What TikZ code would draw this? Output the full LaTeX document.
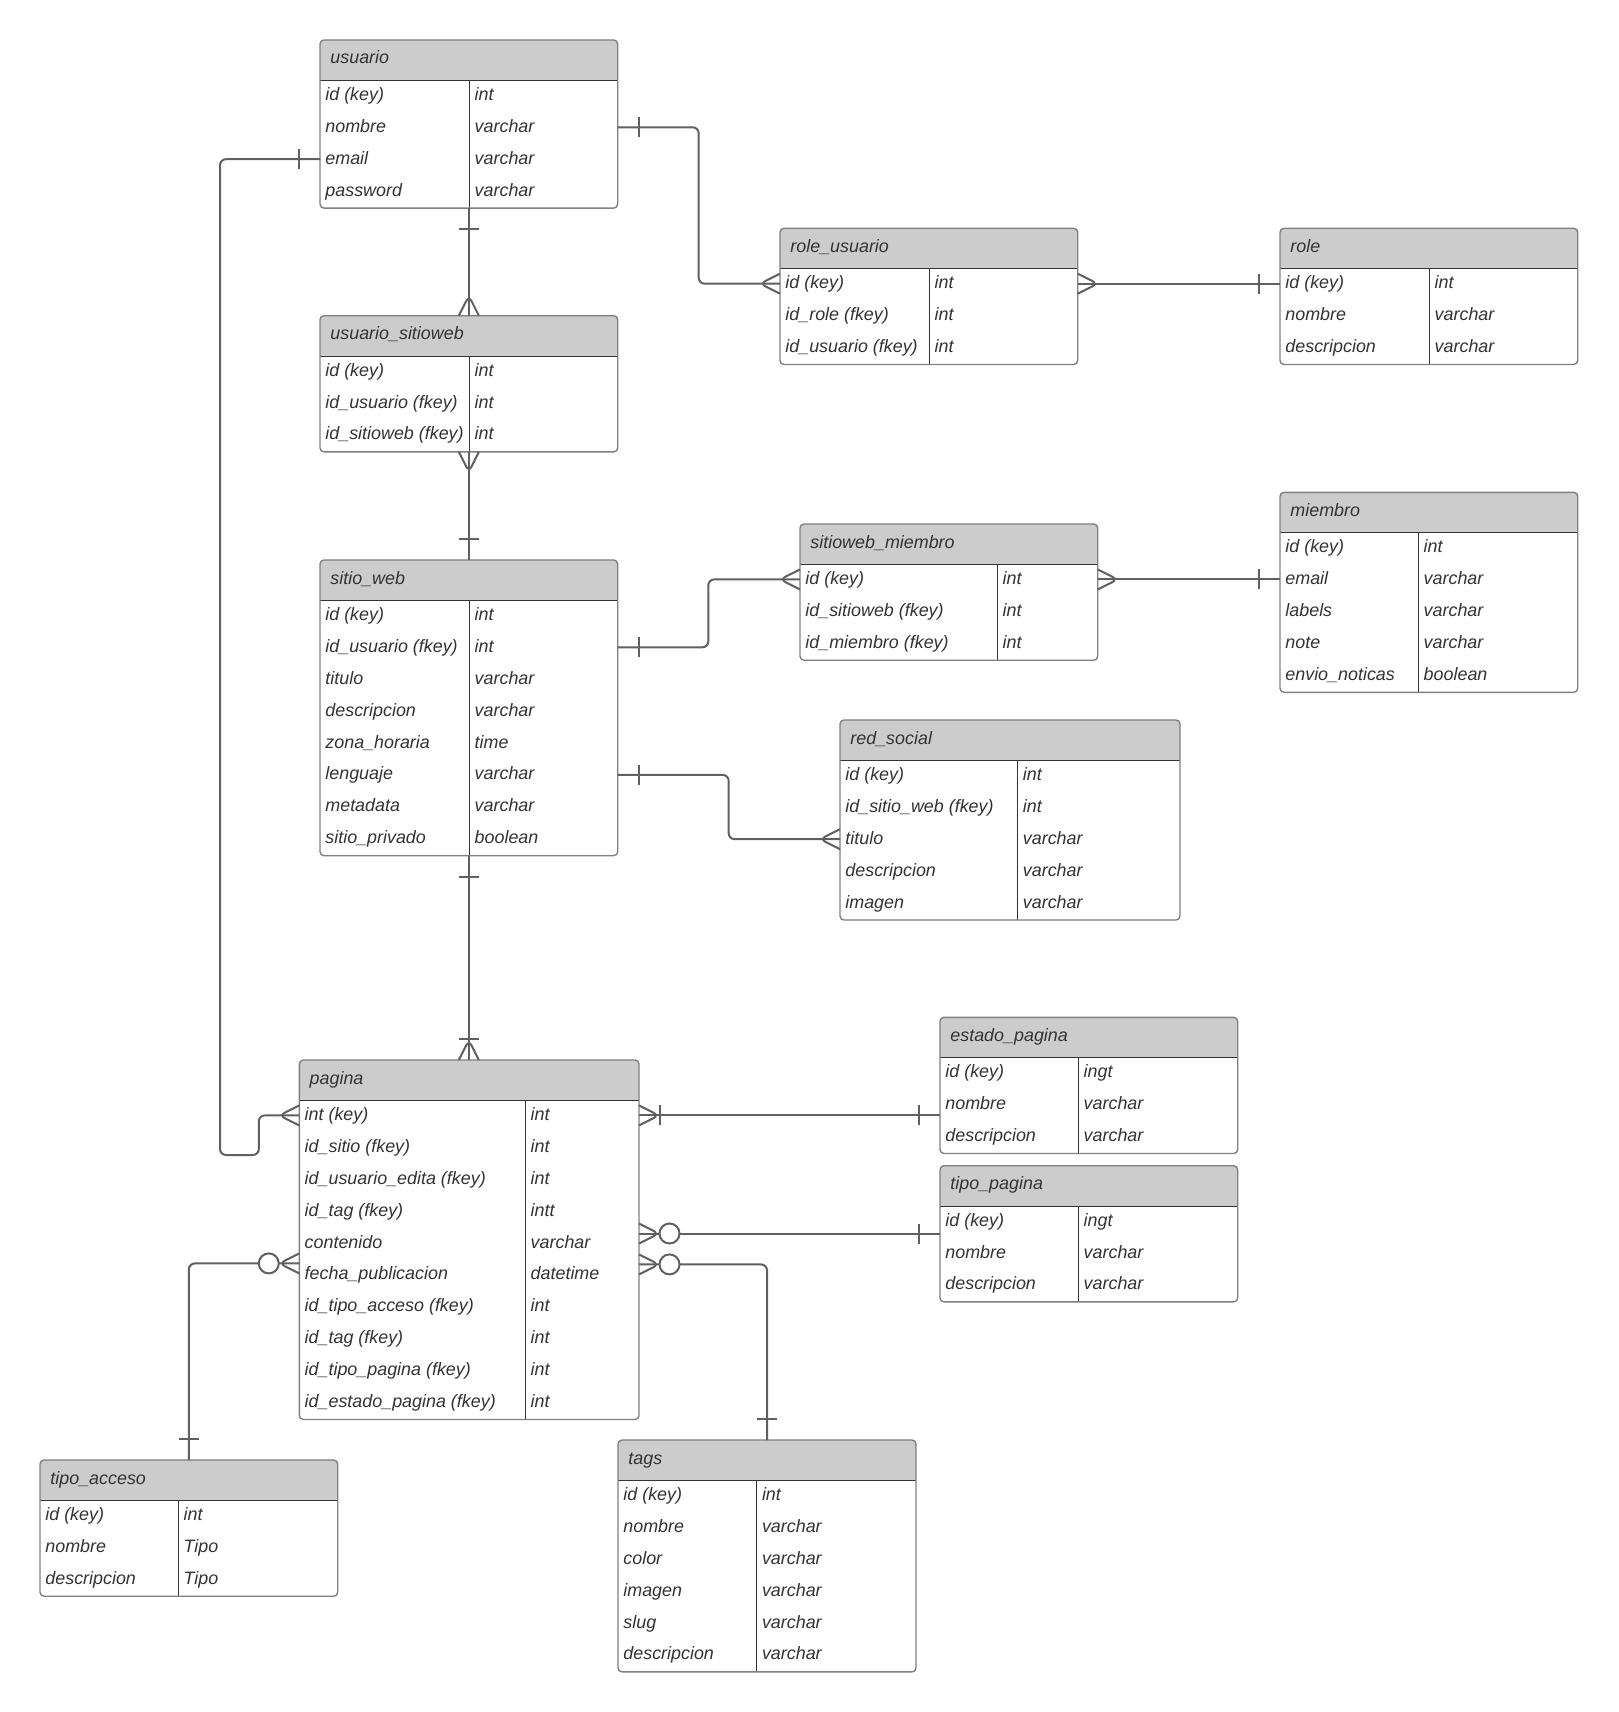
\documentclass[tikz,border=0pt]{standalone}
\usepackage{fontspec}
\setmainfont{Liberation Sans}
\usetikzlibrary{calc}

\definecolor{cabecera}{HTML}{CCCCCC}
\definecolor{texto}{HTML}{333333}
\definecolor{borde}{HTML}{808080}
\definecolor{lineaint}{HTML}{333333}
\definecolor{conector}{HTML}{606060}

% tabla: nombre, x, y, ancho, columna, titulo, filas, campos
\newcommand{\tabla}[8]{%
  \pgfmathsetmacro{\xcab}{#3+40.5}
  \pgfmathsetmacro{\xfondo}{#3+40.5+31.9*#7}
  \pgfmathsetmacro{\xder}{#2+#4}
  \pgfmathsetmacro{\xsep}{#2+#5}
  \fill[white, rounded corners=2pt] (#2,#3) rectangle (\xder,\xfondo);
  \begin{scope}
    \clip[rounded corners=2pt] (#2,#3) rectangle (\xder,\xfondo);
    \fill[cabecera] (#2,#3) rectangle (\xder,\xcab);
  \end{scope}
  \draw[interior] (#2,\xcab) -- (\xder,\xcab);
  \draw[interior] (\xsep,\xcab) -- (\xsep,\xfondo);
  \draw[marco] (#2,#3) rectangle (\xder,\xfondo);
  \node[celda] (#1-t) at (#2+10,#3+24) {#6};
  \coordinate (#1-top) at (#2+#4/2,#3);
  \coordinate (#1-bot) at (#2+#4/2,\xfondo);
  \foreach \campo/\tipo [count=\i] in {#8} {
    \node[celda] (#1-c\i) at (#2+5,\xcab+31.9*\i-12) {\campo};
    \node[celda] (#1-y\i) at (\xsep+5,\xcab+31.9*\i-12) {\tipo};
    \coordinate (#1-l\i) at (#2,\xcab+31.9*\i-17);
    \coordinate (#1-r\i) at (\xder,\xcab+31.9*\i-17);
  }%
}
% extremos de las relaciones
\newcommand{\uno}[2]{\draw[rel] ($(#1)+(#2:21)+(#2+90:10)$) -- ($(#1)+(#2:21)+(#2-90:10)$);}
\newcommand{\muchos}[2]{\draw[rel] ($(#1)+(#2+90:10)$) -- ($(#1)+(#2:20)$) -- ($(#1)+(#2-90:10)$);}
\newcommand{\cero}[2]{\draw[rel, fill=white] ($(#1)+(#2:30.5)$) circle (10);}

\begin{document}
\begin{tikzpicture}[x=0.5pt, y=-0.5pt,
  celda/.style={anchor=base west, inner sep=0pt, text=texto, font=\fontsize{8.95}{10}\selectfont\itshape},
  marco/.style={draw=borde, line width=0.7pt, rounded corners=2pt},
  interior/.style={draw=lineaint, line width=0.5pt},
  rel/.style={draw=conector, line width=1pt, rounded corners=3pt}]
\useasboundingbox (0,0) rectangle (1618,1712);

% tablas
\tabla{usuario}{320}{40}{297.7}{149.3}{usuario}{4}{id (key)/int, nombre/varchar, email/varchar, password/varchar}
\tabla{role_usuario}{780}{228.3}{297.7}{149.3}{role\_usuario}{3}{id (key)/int, id\_role (fkey)/int, id\_usuario (fkey)/int}
\tabla{role}{1280}{228.3}{297.7}{149.3}{role}{3}{id (key)/int, nombre/varchar, descripcion/varchar}
\tabla{usuario_sitioweb}{320}{315.7}{297.7}{149.3}{usuario\_sitioweb}{3}{id (key)/int, id\_usuario (fkey)/int, id\_sitioweb (fkey)/int}
\tabla{sitio_web}{320}{560}{297.7}{149.3}{sitio\_web}{8}{id (key)/int, id\_usuario (fkey)/int, titulo/varchar, descripcion/varchar, zona\_horaria/time, lenguaje/varchar, metadata/varchar, sitio\_privado/boolean}
\tabla{sitioweb_miembro}{800}{524}{297.7}{197.3}{sitioweb\_miembro}{3}{id (key)/int, id\_sitioweb (fkey)/int, id\_miembro (fkey)/int}
\tabla{miembro}{1280}{492.3}{297.7}{138.3}{miembro}{5}{id (key)/int, email/varchar, labels/varchar, note/varchar, envio\_noticas/boolean}
\tabla{red_social}{840}{720}{340}{177.5}{red\_social}{5}{id (key)/int, id\_sitio\_web (fkey)/int, titulo/varchar, descripcion/varchar, imagen/varchar}
\tabla{estado_pagina}{940}{1017.3}{297.7}{138.3}{estado\_pagina}{3}{id (key)/ingt, nombre/varchar, descripcion/varchar}
\tabla{tipo_pagina}{940}{1165.7}{297.7}{138.3}{tipo\_pagina}{3}{id (key)/ingt, nombre/varchar, descripcion/varchar}
\tabla{pagina}{299.3}{1060}{339.7}{226}{pagina}{10}{int (key)/int, id\_sitio (fkey)/int, id\_usuario\_edita (fkey)/int, id\_tag (fkey)/intt, contenido/varchar, fecha\_publicacion/datetime, id\_tipo\_acceso (fkey)/int, id\_tag (fkey)/int, id\_tipo\_pagina (fkey)/int, id\_estado\_pagina (fkey)/int}
\tabla{tipo_acceso}{40}{1460}{297.7}{138.3}{tipo\_acceso}{3}{id (key)/int, nombre/Tipo, descripcion/Tipo}
\tabla{tags}{618}{1440}{298}{138.6}{tags}{6}{id (key)/int, nombre/varchar, color/varchar, imagen/varchar, slug/varchar, descripcion/varchar}

% usuario - role_usuario - role
\draw[rel] (usuario-r2) -- ++(81,0) |- (role_usuario-l1);
\uno{usuario-r2}{0}
\muchos{role_usuario-l1}{180}
\draw[rel] (role_usuario-r1) -- (role-l1);
\muchos{role_usuario-r1}{0}
\uno{role-l1}{180}

% usuario - usuario_sitioweb - sitio_web
\draw[rel] (usuario-bot) -- (usuario_sitioweb-top);
\uno{usuario-bot}{90}
\muchos{usuario_sitioweb-top}{270}
\draw[rel] (usuario_sitioweb-bot) -- (sitio_web-top);
\muchos{usuario_sitioweb-bot}{90}
\uno{sitio_web-top}{270}

% sitio_web - sitioweb_miembro - miembro
\draw[rel] (sitio_web-r2) -- ++(90.6,0) |- (sitioweb_miembro-l1);
\uno{sitio_web-r2}{0}
\muchos{sitioweb_miembro-l1}{180}
\coordinate (mb-sm) at (miembro-l2 |- sitioweb_miembro-r1);
\draw[rel] (sitioweb_miembro-r1) -- (mb-sm);
\muchos{sitioweb_miembro-r1}{0}
\uno{mb-sm}{180}

% sitio_web - red_social
\draw[rel] (sitio_web-r6) -- ++(111,0) |- (red_social-l3);
\uno{sitio_web-r6}{0}
\muchos{red_social-l3}{180}

% sitio_web - pagina
\coordinate (pg-sw) at (sitio_web-bot |- pagina-top);
\draw[rel] (sitio_web-bot) -- (pg-sw);
\uno{sitio_web-bot}{90}
\muchos{pg-sw}{270}
\uno{pg-sw}{270}

% usuario - pagina
\coordinate (codo) at (220,1155);
\draw[rel] (usuario-l3) -| (codo) -| ($(pagina-l1)+(-40.5,0)$) -- (pagina-l1);
\uno{usuario-l3}{180}
\muchos{pagina-l1}{180}

% pagina - estado_pagina
\coordinate (ep-pg) at (estado_pagina-l1 |- pagina-r1);
\draw[rel] (pagina-r1) -- (ep-pg);
\muchos{pagina-r1}{0}
\uno{pagina-r1}{0}
\uno{ep-pg}{180}

% pagina - tipo_pagina
\coordinate (pg-tp) at ($(pagina-r5)+(0,-9.5)$);
\coordinate (tp-pg) at (tipo_pagina-l1 |- pg-tp);
\draw[rel] (pg-tp) -- (tp-pg);
\muchos{pg-tp}{0}
\cero{pg-tp}{0}
\uno{tp-pg}{180}

% pagina - tags
\coordinate (pg-tg) at ($(pagina-r6)+(0,-10.5)$);
\draw[rel] (pg-tg) -| (tags-top);
\muchos{pg-tg}{0}
\cero{pg-tg}{0}
\uno{tags-top}{270}

% pagina - tipo_acceso
\coordinate (pg-ta) at ($(pagina-l6)+(0,-11.5)$);
\draw[rel] (pg-ta) -| (tipo_acceso-top);
\muchos{pg-ta}{180}
\cero{pg-ta}{180}
\uno{tipo_acceso-top}{270}
\end{tikzpicture}
\end{document}
